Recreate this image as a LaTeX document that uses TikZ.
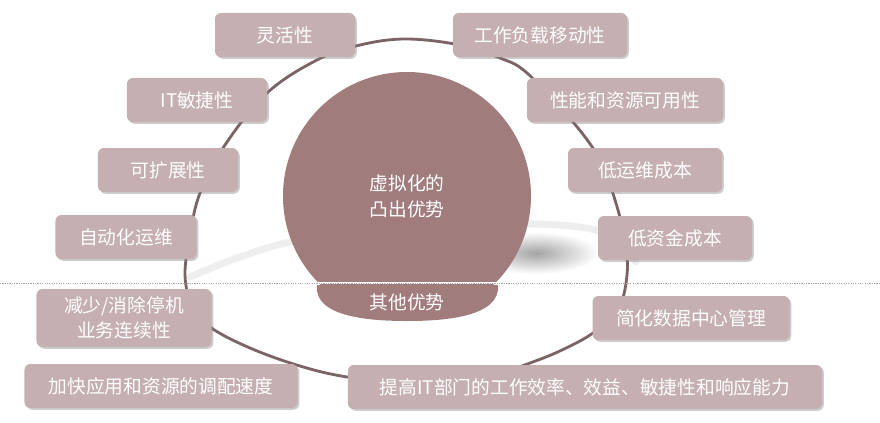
\documentclass[tikz,border=0pt]{standalone}
\usepackage{fontspec}
\setmainfont{Noto Sans CJK SC}
\usetikzlibrary{shadows,fadings}
\definecolor{boxfill}{RGB}{197,175,176}
\definecolor{ballfill}{RGB}{161,124,125}
\definecolor{ringline}{RGB}{124,99,101}
\tikzfading[name=softblob, inner color=transparent!15, outer color=transparent!100]

\begin{document}
\begin{tikzpicture}[x=0.03cm,y=-0.03cm]
  \tikzstyle{adv}=[rectangle, fill=boxfill, rounded corners=5pt, minimum height=1.32cm, text=white, font=\fontsize{16}{21}\selectfont, align=center, drop shadow={shadow xshift=1.5pt, shadow yshift=-1.5pt, opacity=0.4}]
  \tikzstyle{ball}=[circle, fill=ballfill, minimum size=7.44cm, inner sep=0pt, text=white, font=\fontsize{16}{22}\selectfont, align=center]

  \useasboundingbox (0,0) rectangle (880,422);

  % 阴影
  \draw[gray!13, line width=6pt, line cap=round] plot[smooth, tension=0.6] coordinates {
    (190,277) (240,257) (300,240) (400,228) (500,224) (570,226) (612,236) (636,262)};
  \fill[gray!85, path fading=softblob] (536,253) ellipse [x radius=62, y radius=21];

  % 圆环
  \draw[ringline, line width=2.4pt] plot[smooth cycle, tension=0.6] coordinates {
    (406,39) (460,45) (500,58) (527,73) (573,122) (600,160) (615,200) (625,240)
    (627,275) (618,310) (593,333) (562,350) (530,363) (485,378) (425,387) (347,377)
    (300,366) (250,348) (210,327) (192,305) (185,275) (190,235) (200,193) (225,145)
    (267,93) (317,60) (360,45)};

  % 球
  \node[ball] (core) at (407,196) {虚拟化的\\凸出优势};
  \fill[ballfill] (317,285) -- (498,285) .. controls (501,318) and (440,321) .. (407,321)
    .. controls (374,321) and (313,318) .. (317,285) -- cycle;
  \node[text=white, font=\fontsize{16}{21}\selectfont] (other) at (407,302) {其他优势};
  \draw[white, line width=1.5pt] (312,283) -- (503,283);
  \draw[gray!70, line width=0.5pt, dash pattern=on 1pt off 1pt] (0,283) -- (880,283);

  % 左侧
  \node[adv, minimum width=4.2cm] (flex) at (285,35) {灵活性};
  \node[adv, minimum width=4.2cm] (agile) at (197,100) {IT敏捷性};
  \node[adv, minimum width=4.2cm] (scale) at (168,170) {可扩展性};
  \node[adv, minimum width=4.23cm] (auto) at (126,237) {自动化运维};
  \node[adv, minimum width=5.25cm, minimum height=1.74cm] (down) at (124,318) {减少/消除停机\\业务连续性};
  \node[adv, minimum width=8.19cm] (prov) at (161,386) {加快应用和资源的调配速度};

  % 右侧
  \node[adv, minimum width=5.22cm] (move) at (540,35) {工作负载移动性};
  \node[adv, minimum width=5.88cm] (avail) at (625,100) {性能和资源可用性};
  \node[adv, minimum width=4.62cm] (opex) at (645,170) {低运维成本};
  \node[adv, minimum width=4.62cm] (capex) at (675,238) {低资金成本};
  \node[adv, minimum width=5.91cm] (dcm) at (691,318) {简化数据中心管理};
  \node[adv, minimum width=14.22cm] (eff) at (585,387) {提高IT部门的工作效率、效益、敏捷性和响应能力};
\end{tikzpicture}
\end{document}
